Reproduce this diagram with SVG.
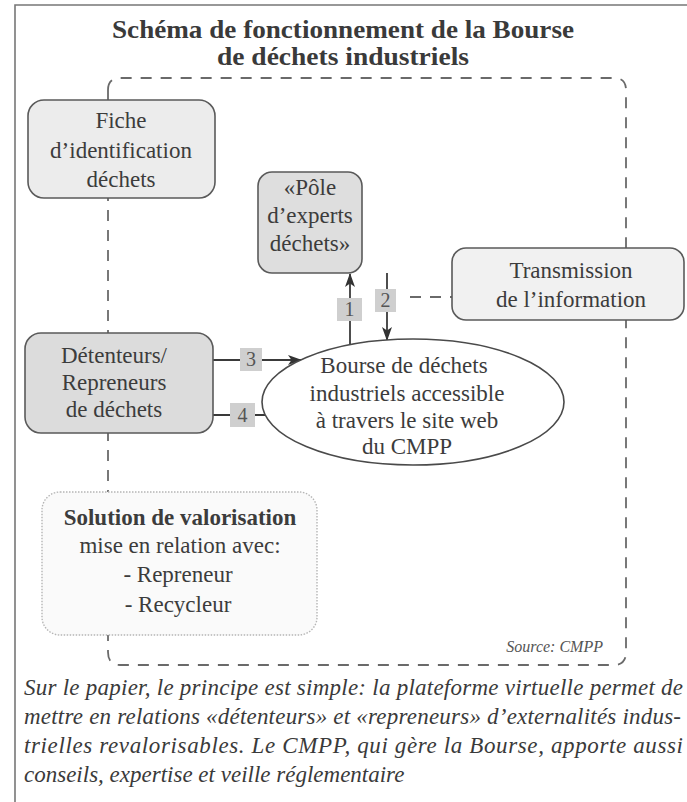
<svg xmlns="http://www.w3.org/2000/svg" width="687" height="802" viewBox="0 0 687 802">
<defs>
<style>
.t{font-family:"Liberation Serif","Times New Roman",serif;fill:#3c3c3c;text-anchor:middle;font-size:23px}
.title{font-family:"Liberation Serif","Times New Roman",serif;fill:#3a3a3a;text-anchor:middle;font-size:25px;font-weight:bold}
.para{font-family:"Liberation Serif","Times New Roman",serif;fill:#3a3a3a;font-size:23px;font-style:italic}
.box{stroke:#5a5a5a;stroke-width:1.6}
.num{fill:#cfcfcf}
.numt{font-family:"Liberation Serif","Times New Roman",serif;fill:#555;text-anchor:middle;font-size:20px}
.dash{fill:none;stroke:#6a6a6a;stroke-width:1.8;stroke-dasharray:11 9}
.arr{fill:none;stroke:#3a3a3a;stroke-width:1.8}
</style>
<marker id="ah" viewBox="0 0 14 10" refX="13" refY="5" markerWidth="14" markerHeight="10" markerUnits="userSpaceOnUse" orient="auto">
<path d="M0,0 L14,5 L0,10 L3.5,5 Z" fill="#333"/>
</marker>
</defs>
<rect width="687" height="802" fill="#fff"/>
<path d="M15,802 V5 H687" fill="none" stroke="#777" stroke-width="1.6"/>
<text class="title" x="343" y="38" textLength="462" lengthAdjust="spacingAndGlyphs">Schéma de fonctionnement de la Bourse</text>
<text class="title" x="343" y="65" textLength="252" lengthAdjust="spacingAndGlyphs">de déchets industriels</text>

<g id="connectors">
<path class="dash" d="M108,90 Q108,78 120,78 H614 Q626,78 626,90 V652 Q626,665 614,665 H120 Q108,665 108,652 Z"/>
<path class="dash" d="M410,297 H452" stroke-dasharray="12 8"/>
<line class="arr" x1="350" y1="345" x2="350" y2="274" marker-end="url(#ah)"/>
<line class="arr" x1="387" y1="273" x2="387" y2="340" marker-end="url(#ah)"/>
<line class="arr" x1="213" y1="360" x2="301" y2="360" marker-end="url(#ah)"/>
<line class="arr" x1="266" y1="415" x2="196" y2="415" marker-end="url(#ah)"/>
<rect class="num" x="337" y="298" width="25" height="23"/>
<text class="numt" x="349.5" y="316">1</text>
<rect class="num" x="375" y="289" width="21" height="23"/>
<text class="numt" x="385.5" y="307">2</text>
<rect class="num" x="240" y="348" width="22" height="23"/>
<text class="numt" x="251" y="366">3</text>
<rect class="num" x="230" y="403" width="25" height="24"/>
<text class="numt" x="242.5" y="422">4</text>
</g>

<g id="fiche">
<rect class="box" x="28" y="100" width="187" height="98" rx="16" fill="#ececec"/>
<text class="t" x="121" y="128">Fiche</text>
<text class="t" x="121" y="158">d’identification</text>
<text class="t" x="121" y="187">déchets</text>
</g>

<g id="pole">
<rect class="box" x="258" y="172" width="104" height="101" rx="14" fill="#dedede"/>
<text class="t" x="310" y="195">«Pôle</text>
<text class="t" x="310" y="223">d’experts</text>
<text class="t" x="310" y="251">déchets»</text>
</g>

<g id="transmission">
<rect class="box" x="452" y="248" width="232" height="72" rx="14" fill="#f1f1f1"/>
<text class="t" x="571" y="278">Transmission</text>
<text class="t" x="571" y="307">de l’information</text>
</g>

<g id="detenteurs">
<rect class="box" x="25" y="333" width="188" height="100" rx="16" fill="#dcdcdc"/>
<text class="t" x="114" y="363">Détenteurs/</text>
<text class="t" x="114" y="390">Repreneurs</text>
<text class="t" x="114" y="417">de déchets</text>
</g>

<g id="bourse">
<ellipse cx="413" cy="402" rx="151" ry="63" fill="#fff" stroke="#4a4a4a" stroke-width="1.6"/>
<text class="t" x="404" y="373">Bourse de déchets</text>
<text class="t" x="407" y="401">industriels accessible</text>
<text class="t" x="407" y="428">à travers le site web</text>
<text class="t" x="407" y="454">du CMPP</text>
</g>

<g id="solution">
<rect x="42" y="492" width="275" height="143" rx="18" fill="#fafafa" stroke="#b5b5b5" stroke-width="1.4" stroke-dasharray="1.5 1.5"/>
<text class="t" x="180" y="525" font-weight="bold">Solution de valorisation</text>
<text class="t" x="180" y="553">mise en relation avec:</text>
<text class="t" x="178" y="582">- Repreneur</text>
<text class="t" x="178" y="612">- Recycleur</text>
</g>

<text x="603" y="652" text-anchor="end" font-family="'Liberation Serif','Times New Roman',serif" font-style="italic" font-size="16" fill="#555">Source: CMPP</text>

<text class="para" x="24" y="695" textLength="659" lengthAdjust="spacing">Sur le papier, le principe est simple: la plateforme virtuelle permet de</text>
<text class="para" x="24" y="724" textLength="657" lengthAdjust="spacing">mettre en relations «détenteurs» et «repreneurs» d’externalités indus-</text>
<text class="para" x="24" y="753" textLength="659" lengthAdjust="spacing">trielles revalorisables. Le CMPP, qui gère la Bourse, apporte aussi</text>
<text class="para" x="24" y="782">conseils, expertise et veille réglementaire</text>
</svg>
